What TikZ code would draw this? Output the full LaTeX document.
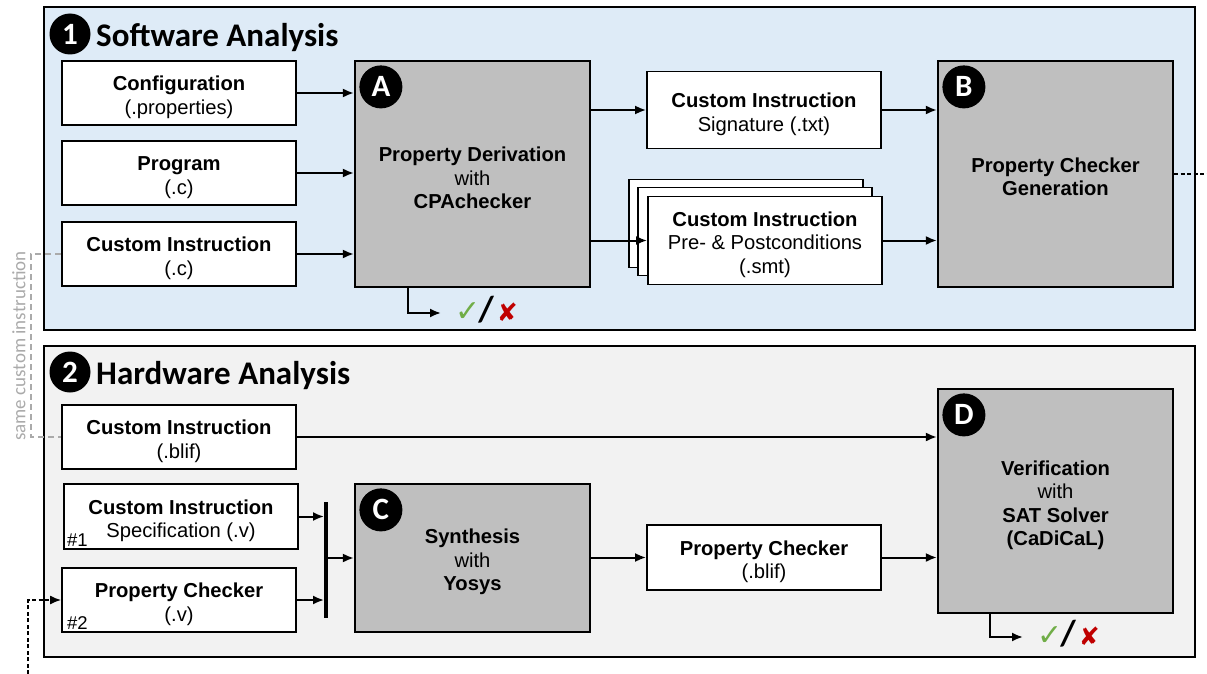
\documentclass[tikz,border=0pt]{standalone}
\usepackage{fontspec}
\setmainfont{Liberation Sans}
\newfontfamily\calibri{Carlito}
\newfontfamily\symfont{DejaVu Sans}
\usetikzlibrary{arrows.meta,calc}

\definecolor{swbg}{RGB}{222,235,247}
\definecolor{hwbg}{RGB}{242,242,242}
\definecolor{toolgray}{RGB}{191,191,191}
\definecolor{okgreen}{RGB}{112,173,71}
\definecolor{badred}{RGB}{192,0,0}
\definecolor{notegray}{RGB}{170,170,170}

% verdict marker: pass / fail
\newcommand{\passfail}{{\symfont\fontsize{30}{30}\selectfont\color{okgreen}✓}\kern-2pt{\calibri\bfseries\fontsize{36}{36}\selectfont /}\kern3pt{\symfont\fontsize{25}{25}\selectfont\color{badred}✘}}
% extra head room on the first line of a box label
\newcommand{\headroom}{\rule{0pt}{23pt}}

\begin{document}
\begin{tikzpicture}[x=1pt,y=-1pt,
  panel/.style={draw=black, line width=2.8pt},
  filebox/.style={draw=black, fill=white, line width=1.8pt, minimum width=234pt,
    minimum height=64pt, inner sep=0pt, align=center,
    font=\fontsize{20.2}{23.5}\selectfont},
  toolbox/.style={draw=black, fill=toolgray, line width=2.2pt, minimum width=235pt,
    inner sep=0pt, align=center, font=\fontsize{20.2}{23.5}\selectfont},
  badge/.style={circle, fill=black, text=white, minimum size=43pt, inner sep=0pt,
    font=\calibri\bfseries\fontsize{31}{31}\selectfont},
  heading/.style={anchor=base west, inner sep=0pt,
    font=\calibri\bfseries\fontsize{33}{33}\selectfont},
  flow/.style={line width=2pt, -{Latex[length=11pt,width=9pt]}},
  tag/.style={anchor=base west, inner sep=0pt, font=\fontsize{18.5}{18.5}\selectfont},
  verdict/.style={anchor=west, inner sep=0pt}
]
\useasboundingbox (0,0) rectangle (1207,674);

% panels
\node[panel, fill=swbg, minimum width=1151pt, minimum height=323pt, inner sep=0pt] (sw) at (619.5,168.5) {};
\node[panel, fill=hwbg, minimum width=1151pt, minimum height=311pt, inner sep=0pt] (hw) at (619.5,501.5) {};

\node[badge, minimum size=41pt] (n1) at (70,34) {1};
\node[heading] (swtitle) at (96,47) {Software Analysis};
\node[badge, minimum size=41pt] (n2) at (70,372) {2};
\node[heading] (hwtitle) at (96,384) {Hardware Analysis};

% software analysis inputs
\node[filebox] (cfg) at (179,93) {\headroom\textbf{Configuration}\\(.properties)};
\node[filebox] (prog) at (179,173) {\headroom\textbf{Program}\\(.c)};
\node[filebox] (cic) at (179,254) {\headroom\textbf{Custom Instruction}\\(.c)};

% property derivation
\node[toolbox, minimum height=226pt] (A) at (472.5,174) {\headroom\textbf{Property Derivation}\\with\\\textbf{CPAchecker}};
\node[badge] at ([shift={(27,27)}]A.north west) (bA) {A};

% derived artefacts
\node[filebox, minimum height=77pt] (sig) at (764,110) {\headroom\textbf{Custom Instruction}\\Signature (.txt)};
\node[filebox, minimum height=88pt] (pp3) at (746,223.5) {};
\node[filebox, minimum height=88pt] (pp2) at (755,231.5) {};
\node[filebox, minimum height=88pt] (pp1) at (765,240.5) {\headroom\textbf{Custom Instruction}\\Pre- \& Postconditions\\(.smt)};

% property checker generation
\node[toolbox, minimum height=226pt] (B) at (1055.5,174) {\rule{0pt}{20pt}\textbf{Property Checker}\\\textbf{Generation}};
\node[badge] at ([shift={(27,27)}]B.north west) (bB) {B};

\draw[flow] (cfg.east) -- (cfg.east -| A.west);
\draw[flow] (prog.east) -- (prog.east -| A.west);
\draw[flow] (cic.east) -- (cic.east -| A.west);
\draw[flow] (A.east |- sig.west) -- (sig.west);
\draw[flow] (A.east |- pp1.west) -- (pp1.west);
\draw[flow] (sig.east) -- (sig.east -| B.west);
\draw[flow] (pp1.east) -- (pp1.east -| B.west);

\coordinate (aout) at (441,313);
\draw[flow] ([xshift=-64.5pt]A.south) |- (aout);
\node[verdict] (resA) at (455,310) {\passfail};

\coordinate (loopout) at (1207,174);
\draw[line width=1.6pt, dash pattern=on 4pt off 2.5pt] (B.east) -- (loopout);

% hardware analysis
\node[filebox] (ciblif) at (179,437) {\headroom\textbf{Custom Instruction}\\(.blif)};
\node[filebox, minimum height=65pt] (spec) at (181,516.5) {\headroom\textbf{Custom Instruction}\\Specification (.v)};
\node[filebox] (pcv) at (179,600) {\headroom\textbf{Property Checker}\\(.v)};
\node[tag] (t1) at (67,546) {\#1};
\node[tag] (t2) at (67,629) {\#2};

\node[fill=black, minimum width=3.5pt, minimum height=116pt, inner sep=0pt] (bar) at (326,560) {};

\node[toolbox, minimum height=148pt] (C) at (472.5,558) {\headroom\textbf{Synthesis}\\with\\\textbf{Yosys}};
\node[badge] at ([shift={(27,27)}]C.north west) (bC) {C};

\node[filebox, minimum height=65pt] (pcb) at (764,557.5) {\headroom\textbf{Property Checker}\\(.blif)};

\node[toolbox, minimum height=224pt] (D) at (1055.5,501) {\headroom\textbf{Verification}\\with\\\textbf{SAT Solver}\\\textbf{(CaDiCaL)}};
\node[badge] at ([shift={(27,27)}]D.north west) (bD) {D};

\draw[flow] (ciblif.east) -- (ciblif.east -| D.west);
\draw[flow] (spec.east) -- (spec.east -| bar.west);
\draw[flow] (pcv.east) -- (pcv.east -| bar.west);
\draw[flow] (bar.east |- C.west) -- (C.west);
\draw[flow] (C.east |- pcb.west) -- (pcb.west);
\draw[flow] (pcb.east) -- (pcb.east -| D.west);

\coordinate (dout) at (1023,637);
\draw[flow] ([xshift=-65.5pt]D.south) |- (dout);
\node[verdict] (resD) at (1037,634) {\passfail};

% link between the two representations of the custom instruction
\draw[notegray, line width=1.6pt, dash pattern=on 6pt off 4pt] (cic.west) -- ++(-30,0) |- (ciblif.west);
\node[rotate=90, text=notegray, inner sep=0pt, font=\calibri\fontsize{19}{19}\selectfont] (same) at (19,346) {same custom instruction};

% feedback from property checker generation
\coordinate (loopin) at (28,674);
\draw[flow, line width=1.6pt, dash pattern=on 4pt off 2.5pt] (loopin) |- (pcv.west);
\end{tikzpicture}
\end{document}
